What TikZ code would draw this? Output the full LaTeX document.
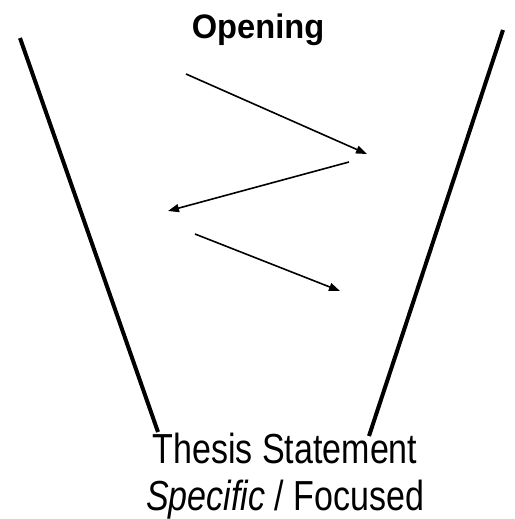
\documentclass[tikz,border=0pt]{standalone}
\usepackage{fontspec}
\setmainfont{Liberation Sans}
\usetikzlibrary{arrows.meta}
\begin{document}
\begin{tikzpicture}[x=1pt,y=-1pt,
  wall/.style={line width=4pt},
  zig/.style={line width=1.6pt,-{Triangle[length=11pt,width=8pt]}},
  lbl/.style={inner sep=0pt,anchor=base}]
\useasboundingbox (0,0) rectangle (514,519);
\coordinate (l1) at (20,38);
\coordinate (l2) at (158,432);
\coordinate (r1) at (503,30);
\coordinate (r2) at (369,436);
\draw[wall] (l1) -- (l2);
\draw[wall] (r1) -- (r2);
\coordinate (a1) at (186,74);
\coordinate (a2) at (367,154);
\coordinate (b1) at (349,162);
\coordinate (b2) at (168,211);
\coordinate (c1) at (195,234);
\coordinate (c2) at (340,291);
\draw[zig] (a1) -- (a2);
\draw[zig] (b1) -- (b2);
\draw[zig] (c1) -- (c2);
\node[lbl,xscale=0.96] (open) at (258,39) {\fontsize{34}{40}\selectfont\bfseries Opening};
\node[lbl,xscale=0.81] (thesis) at (285,463) {\fontsize{42}{47}\selectfont Thesis Statement};
\node[lbl,xscale=0.81] (spec) at (285,510) {\fontsize{42}{47}\selectfont\textit{Specific} / Focused};
\end{tikzpicture}
\end{document}
